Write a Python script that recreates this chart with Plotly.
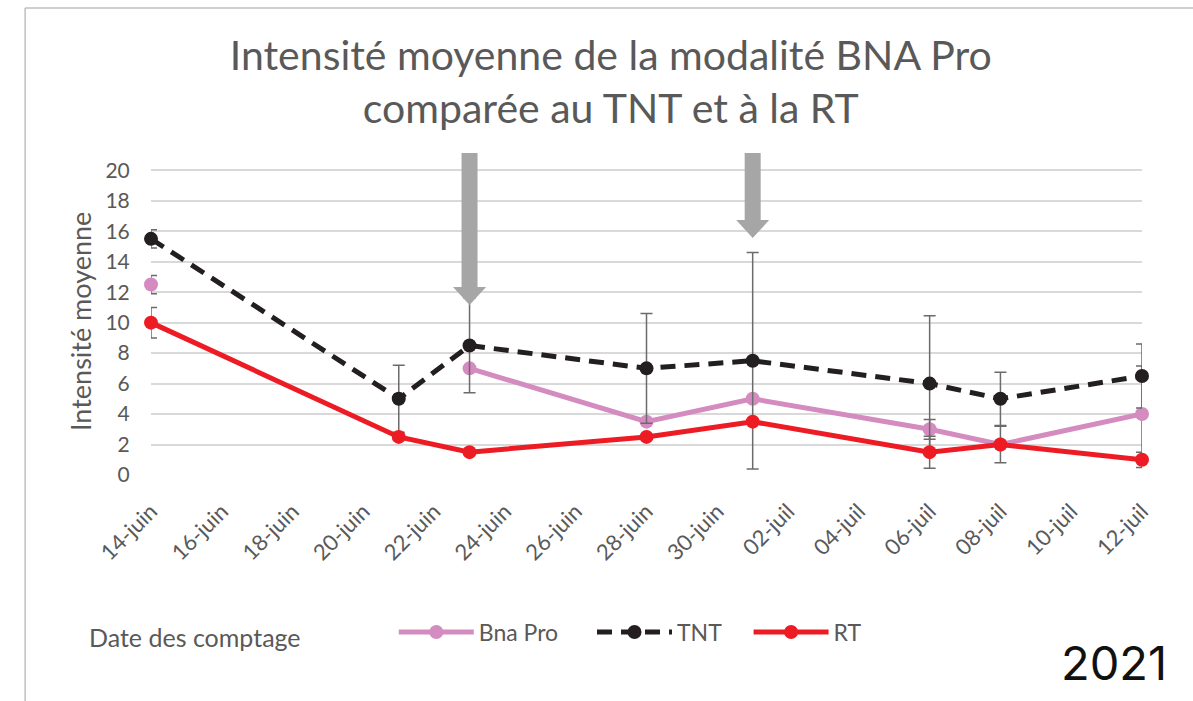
import plotly.graph_objects as go

# ---- data ----
dates = ["2021-06-14", "2021-06-21", "2021-06-23", "2021-06-28",
         "2021-07-01", "2021-07-06", "2021-07-08", "2021-07-12"]
bna_pro = [12.5, None, 7, 3.5, 5, 3, 2, 4]
tnt = [15.5, 5, 8.5, 7, 7.5, 6, 5, 6.5]
rt = [10, 2.5, 1.5, 2.5, 3.5, 1.5, 2, 1]
bna_err = [0.6, 0, 0, 0, 0, 0.65, 0, 3.15]
tnt_err = [0.6, 2.2, 3.1, 3.6, 7.1, 4.45, 1.75, 2.1]
rt_err = [1.0, 0, 0, 0, 0, 1.05, 1.2, 0.5]

tick_dates = ["2021-06-14", "2021-06-16", "2021-06-18", "2021-06-20", "2021-06-22",
              "2021-06-24", "2021-06-26", "2021-06-28", "2021-06-30", "2021-07-02",
              "2021-07-04", "2021-07-06", "2021-07-08", "2021-07-10", "2021-07-12"]
tick_labels = ["14-juin", "16-juin", "18-juin", "20-juin", "22-juin", "24-juin",
               "26-juin", "28-juin", "30-juin", "02-juil", "04-juil", "06-juil",
               "08-juil", "10-juil", "12-juil"]
y_ticks = [0, 2, 4, 6, 8, 10, 12, 14, 16, 18, 20]

# treatment arrows: (date, tip value, length in px)
arrow_dates = ["2021-06-23", "2021-07-01"]
arrow_tips = [11.15, 15.55]
arrow_lengths = [152, 85]

FONT = "Lato"
GREY_TXT = "#595959"
ERR_COL = "#6b6b6b"

fig = go.Figure()

def err(vals):
    return dict(type="data", array=vals, visible=True, color=ERR_COL,
                thickness=1.5, width=6)

fig.add_trace(go.Scatter(
    x=dates, y=bna_pro, name="Bna Pro", mode="lines+markers",
    line=dict(color="#D48BBF", width=5), marker=dict(size=14, color="#D48BBF"),
    error_y=err(bna_err), connectgaps=False, cliponaxis=False, legend="legend"))
fig.add_trace(go.Scatter(
    x=dates, y=tnt, name="TNT", mode="lines+markers",
    line=dict(color="#231F20", width=5, dash="15px,9px"),
    marker=dict(size=14, color="#231F20"),
    error_y=err(tnt_err), cliponaxis=False, legend="legend2"))
fig.add_trace(go.Scatter(
    x=dates, y=rt, name="RT", mode="lines+markers",
    line=dict(color="#ED1C24", width=5), marker=dict(size=14, color="#ED1C24"),
    error_y=err(rt_err), cliponaxis=False, legend="legend3"))

# arrows drawn as pixel-sized paths anchored at data positions
for d, tip, L in zip(arrow_dates, arrow_tips, arrow_lengths):
    path = f"M -8,{L} L 8,{L} L 8,18 L 16.5,18 L 0,0 L -16.5,18 L -8,18 Z"
    fig.add_shape(type="path", xref="x", yref="y", xsizemode="pixel",
                  ysizemode="pixel", xanchor=d, yanchor=tip, path=path,
                  fillcolor="#A6A6A6", line=dict(width=0), layer="above")

# outer frame lines (left and top)
fig.add_shape(type="line", xref="paper", yref="paper", x0=-0.127, x1=-0.127,
              y0=1.446, y1=-0.75, line=dict(color="#BFBFBF", width=1.5))
fig.add_shape(type="line", xref="paper", yref="paper", x0=-0.127, x1=1.2,
              y0=1.446, y1=1.446, line=dict(color="#BFBFBF", width=1.5))

legend_style = dict(orientation="h", xanchor="left", y=-0.486, yanchor="middle",
                    itemwidth=75, font=dict(size=23, color=GREY_TXT),
                    bgcolor="rgba(0,0,0,0)")

fig.update_layout(
    width=1193, height=701,
    margin=dict(l=151, r=51, t=152, b=226),
    paper_bgcolor="white", plot_bgcolor="white",
    font=dict(family=FONT, color=GREY_TXT, size=20),
    title=dict(text="Intensité moyenne de la modalité BNA Pro<br>comparée au TNT et à la RT",
               x=0.512, xanchor="center", y=0.9, yanchor="middle",
               font=dict(size=41, color=GREY_TXT, family=FONT)),
    xaxis=dict(type="date", range=["2021-06-14", "2021-07-12"],
               tickvals=tick_dates, ticktext=tick_labels, tickangle=-45,
               showgrid=False, zeroline=False, showline=False,
               ticks="outside", ticklen=14, tickcolor="rgba(0,0,0,0)",
               tickfont=dict(size=22, color=GREY_TXT)),
    yaxis=dict(range=[0, 21.2], tickvals=y_ticks, showgrid=True,
               gridcolor="#D9D9D9", gridwidth=2, zeroline=False, showline=False,
               ticks="outside", ticklen=16, tickcolor="rgba(0,0,0,0)",
               tickfont=dict(size=21, color=GREY_TXT)),
    legend=dict(x=0.245, **legend_style),
    legend2=dict(x=0.445, **legend_style),
    legend3=dict(x=0.603, **legend_style),
    showlegend=True,
)

fig.add_annotation(text="Intensité moyenne", xref="paper", yref="paper",
                   x=-0.0706, y=0.4737, xanchor="center", yanchor="middle",
                   textangle=-90, showarrow=False,
                   font=dict(size=27, color=GREY_TXT))
fig.add_annotation(text="Date des comptage", xref="paper", yref="paper",
                   x=-0.065, y=-0.5, xanchor="left", yanchor="middle",
                   showarrow=False, font=dict(size=25, color=GREY_TXT))
fig.add_annotation(text="2021", xref="paper", yref="paper",
                   x=1.027, y=-0.58, xanchor="right", yanchor="middle",
                   showarrow=False, font=dict(size=47, color="#111111", family="Inter"))

fig.write_html("out.html", config={"displayModeBar": False},
               post_script="document.body.style.margin='0';")
